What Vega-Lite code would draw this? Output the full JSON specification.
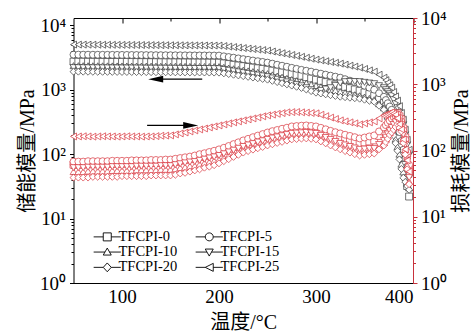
{
  "$schema": "https://vega.github.io/schema/vega-lite/v6.json",
  "width": 339.5,
  "height": 265,
  "autosize": "none",
  "padding": {"left": 73.5, "top": 18, "right": 62, "bottom": 52},
  "background": "white",
  "config": {
    "view": {"stroke": "black", "strokeWidth": 1},
    "axis": {
      "grid": false,
      "labelFont": "Liberation Serif",
      "labelFontSize": 19,
      "labelColor": "black",
      "titleFont": "Liberation Serif, Noto Sans CJK SC",
      "titleFontSize": 20,
      "titleFontWeight": "normal",
      "titleColor": "black",
      "domainColor": "black",
      "tickColor": "black",
      "domainWidth": 1,
      "tickWidth": 1
    }
  },
  "datasets": {
    "dma": [
      {"s":"TFCPI-0","T":50,"E1":2734,"E2":61},{"s":"TFCPI-0","T":55,"E1":2731,"E2":61},{"s":"TFCPI-0","T":60,"E1":2728,"E2":61},{"s":"TFCPI-0","T":65,"E1":2724,"E2":62},{"s":"TFCPI-0","T":70,"E1":2721,"E2":62},{"s":"TFCPI-0","T":75,"E1":2718,"E2":62},{"s":"TFCPI-0","T":80,"E1":2715,"E2":62},{"s":"TFCPI-0","T":85,"E1":2712,"E2":63},{"s":"TFCPI-0","T":90,"E1":2708,"E2":63},{"s":"TFCPI-0","T":95,"E1":2705,"E2":63},
      {"s":"TFCPI-0","T":100,"E1":2702,"E2":63},{"s":"TFCPI-0","T":105,"E1":2699,"E2":64},{"s":"TFCPI-0","T":110,"E1":2696,"E2":64},{"s":"TFCPI-0","T":115,"E1":2692,"E2":64},{"s":"TFCPI-0","T":120,"E1":2689,"E2":64},{"s":"TFCPI-0","T":125,"E1":2686,"E2":65},{"s":"TFCPI-0","T":130,"E1":2683,"E2":65},{"s":"TFCPI-0","T":135,"E1":2680,"E2":65},{"s":"TFCPI-0","T":140,"E1":2676,"E2":65},{"s":"TFCPI-0","T":145,"E1":2673,"E2":66},
      {"s":"TFCPI-0","T":150,"E1":2670,"E2":66},{"s":"TFCPI-0","T":155,"E1":2667,"E2":67},{"s":"TFCPI-0","T":160,"E1":2664,"E2":70},{"s":"TFCPI-0","T":165,"E1":2660,"E2":72},{"s":"TFCPI-0","T":170,"E1":2657,"E2":74},{"s":"TFCPI-0","T":175,"E1":2654,"E2":76},{"s":"TFCPI-0","T":180,"E1":2651,"E2":80},{"s":"TFCPI-0","T":185,"E1":2648,"E2":82},{"s":"TFCPI-0","T":190,"E1":2644,"E2":86},{"s":"TFCPI-0","T":195,"E1":2641,"E2":89},
      {"s":"TFCPI-0","T":200,"E1":2638,"E2":93},{"s":"TFCPI-0","T":205,"E1":2572,"E2":99},{"s":"TFCPI-0","T":210,"E1":2508,"E2":106},{"s":"TFCPI-0","T":215,"E1":2446,"E2":113},{"s":"TFCPI-0","T":220,"E1":2386,"E2":120},{"s":"TFCPI-0","T":225,"E1":2327,"E2":128},{"s":"TFCPI-0","T":230,"E1":2269,"E2":135},{"s":"TFCPI-0","T":235,"E1":2213,"E2":144},{"s":"TFCPI-0","T":240,"E1":2158,"E2":152},{"s":"TFCPI-0","T":245,"E1":2105,"E2":160},
      {"s":"TFCPI-0","T":250,"E1":2052,"E2":169},{"s":"TFCPI-0","T":255,"E1":1986,"E2":177},{"s":"TFCPI-0","T":260,"E1":1924,"E2":185},{"s":"TFCPI-0","T":265,"E1":1864,"E2":192},{"s":"TFCPI-0","T":270,"E1":1810,"E2":201},{"s":"TFCPI-0","T":275,"E1":1752,"E2":208},{"s":"TFCPI-0","T":280,"E1":1697,"E2":210},{"s":"TFCPI-0","T":285,"E1":1644,"E2":213},{"s":"TFCPI-0","T":290,"E1":1568,"E2":215},{"s":"TFCPI-0","T":295,"E1":1497,"E2":212},
      {"s":"TFCPI-0","T":300,"E1":1434,"E2":208},{"s":"TFCPI-0","T":305,"E1":1373,"E2":196},{"s":"TFCPI-0","T":310,"E1":1316,"E2":185},{"s":"TFCPI-0","T":315,"E1":1261,"E2":177},{"s":"TFCPI-0","T":320,"E1":1208,"E2":167},{"s":"TFCPI-0","T":325,"E1":1156,"E2":157},{"s":"TFCPI-0","T":330,"E1":1106,"E2":150},{"s":"TFCPI-0","T":335,"E1":1057,"E2":142},{"s":"TFCPI-0","T":340,"E1":1011,"E2":135},{"s":"TFCPI-0","T":345,"E1":967,"E2":128},
      {"s":"TFCPI-0","T":350,"E1":910,"E2":132},{"s":"TFCPI-0","T":355,"E1":858,"E2":137},{"s":"TFCPI-0","T":360,"E1":808,"E2":142},{"s":"TFCPI-0","T":365,"E1":713,"E2":166},{"s":"TFCPI-0","T":370,"E1":629,"E2":194},{"s":"TFCPI-0","T":372,"E1":550,"E2":213},{"s":"TFCPI-0","T":374,"E1":480,"E2":235},{"s":"TFCPI-0","T":376,"E1":420,"E2":260},{"s":"TFCPI-0","T":378,"E1":367,"E2":285},{"s":"TFCPI-0","T":380,"E1":293,"E2":308},
      {"s":"TFCPI-0","T":382,"E1":234,"E2":336},{"s":"TFCPI-0","T":384,"E1":187,"E2":364},{"s":"TFCPI-0","T":386,"E1":140,"E2":328},{"s":"TFCPI-0","T":388,"E1":98,"E2":295},{"s":"TFCPI-0","T":390,"E1":68,"E2":215},{"s":"TFCPI-0","T":392,"E1":48,"E2":157},{"s":"TFCPI-0","T":394,"E1":32,"E2":90},{"s":"TFCPI-0","T":396,"E1":22,"E2":52},

      {"s":"TFCPI-5","T":50,"E1":3514,"E2":68},{"s":"TFCPI-5","T":55,"E1":3510,"E2":68},{"s":"TFCPI-5","T":60,"E1":3506,"E2":68},{"s":"TFCPI-5","T":65,"E1":3502,"E2":69},{"s":"TFCPI-5","T":70,"E1":3498,"E2":69},{"s":"TFCPI-5","T":75,"E1":3494,"E2":69},{"s":"TFCPI-5","T":80,"E1":3490,"E2":69},{"s":"TFCPI-5","T":85,"E1":3486,"E2":69},{"s":"TFCPI-5","T":90,"E1":3482,"E2":70},{"s":"TFCPI-5","T":95,"E1":3478,"E2":70},
      {"s":"TFCPI-5","T":100,"E1":3474,"E2":70},{"s":"TFCPI-5","T":105,"E1":3470,"E2":70},{"s":"TFCPI-5","T":110,"E1":3466,"E2":71},{"s":"TFCPI-5","T":115,"E1":3462,"E2":71},{"s":"TFCPI-5","T":120,"E1":3458,"E2":71},{"s":"TFCPI-5","T":125,"E1":3454,"E2":71},{"s":"TFCPI-5","T":130,"E1":3450,"E2":72},{"s":"TFCPI-5","T":135,"E1":3446,"E2":72},{"s":"TFCPI-5","T":140,"E1":3442,"E2":72},{"s":"TFCPI-5","T":145,"E1":3438,"E2":73},
      {"s":"TFCPI-5","T":150,"E1":3434,"E2":73},{"s":"TFCPI-5","T":155,"E1":3430,"E2":75},{"s":"TFCPI-5","T":160,"E1":3426,"E2":77},{"s":"TFCPI-5","T":165,"E1":3422,"E2":79},{"s":"TFCPI-5","T":170,"E1":3418,"E2":81},{"s":"TFCPI-5","T":175,"E1":3414,"E2":84},{"s":"TFCPI-5","T":180,"E1":3410,"E2":88},{"s":"TFCPI-5","T":185,"E1":3406,"E2":91},{"s":"TFCPI-5","T":190,"E1":3402,"E2":95},{"s":"TFCPI-5","T":195,"E1":3398,"E2":99},
      {"s":"TFCPI-5","T":200,"E1":3394,"E2":104},{"s":"TFCPI-5","T":205,"E1":3305,"E2":110},{"s":"TFCPI-5","T":210,"E1":3223,"E2":117},{"s":"TFCPI-5","T":215,"E1":3145,"E2":125},{"s":"TFCPI-5","T":220,"E1":3067,"E2":133},{"s":"TFCPI-5","T":225,"E1":2990,"E2":142},{"s":"TFCPI-5","T":230,"E1":2917,"E2":150},{"s":"TFCPI-5","T":235,"E1":2844,"E2":159},{"s":"TFCPI-5","T":240,"E1":2775,"E2":168},{"s":"TFCPI-5","T":245,"E1":2705,"E2":177},
      {"s":"TFCPI-5","T":250,"E1":2638,"E2":187},{"s":"TFCPI-5","T":255,"E1":2545,"E2":196},{"s":"TFCPI-5","T":260,"E1":2446,"E2":204},{"s":"TFCPI-5","T":265,"E1":2361,"E2":213},{"s":"TFCPI-5","T":270,"E1":2277,"E2":221},{"s":"TFCPI-5","T":275,"E1":2190,"E2":231},{"s":"TFCPI-5","T":280,"E1":2112,"E2":234},{"s":"TFCPI-5","T":285,"E1":2038,"E2":237},{"s":"TFCPI-5","T":290,"E1":1973,"E2":239},{"s":"TFCPI-5","T":295,"E1":1910,"E2":235},
      {"s":"TFCPI-5","T":300,"E1":1843,"E2":231},{"s":"TFCPI-5","T":305,"E1":1778,"E2":220},{"s":"TFCPI-5","T":310,"E1":1715,"E2":209},{"s":"TFCPI-5","T":315,"E1":1655,"E2":198},{"s":"TFCPI-5","T":320,"E1":1597,"E2":189},{"s":"TFCPI-5","T":325,"E1":1540,"E2":181},{"s":"TFCPI-5","T":330,"E1":1460,"E2":173},{"s":"TFCPI-5","T":335,"E1":1383,"E2":166},{"s":"TFCPI-5","T":340,"E1":1311,"E2":159},{"s":"TFCPI-5","T":345,"E1":1242,"E2":152},
      {"s":"TFCPI-5","T":350,"E1":1156,"E2":157},{"s":"TFCPI-5","T":355,"E1":1076,"E2":163},{"s":"TFCPI-5","T":360,"E1":1002,"E2":169},{"s":"TFCPI-5","T":365,"E1":884,"E2":194},{"s":"TFCPI-5","T":370,"E1":779,"E2":223},{"s":"TFCPI-5","T":372,"E1":693,"E2":241},{"s":"TFCPI-5","T":374,"E1":618,"E2":262},{"s":"TFCPI-5","T":376,"E1":549,"E2":282},{"s":"TFCPI-5","T":378,"E1":489,"E2":305},{"s":"TFCPI-5","T":380,"E1":407,"E2":319},
      {"s":"TFCPI-5","T":382,"E1":338,"E2":336},{"s":"TFCPI-5","T":384,"E1":282,"E2":351},{"s":"TFCPI-5","T":386,"E1":220,"E2":312},{"s":"TFCPI-5","T":388,"E1":160,"E2":275},{"s":"TFCPI-5","T":390,"E1":117,"E2":201},{"s":"TFCPI-5","T":392,"E1":87,"E2":147},{"s":"TFCPI-5","T":394,"E1":64,"E2":95},{"s":"TFCPI-5","T":396,"E1":48,"E2":61},

      {"s":"TFCPI-10","T":50,"E1":2369,"E2":48},{"s":"TFCPI-10","T":55,"E1":2366,"E2":48},{"s":"TFCPI-10","T":60,"E1":2363,"E2":48},{"s":"TFCPI-10","T":65,"E1":2361,"E2":49},{"s":"TFCPI-10","T":70,"E1":2358,"E2":49},{"s":"TFCPI-10","T":75,"E1":2355,"E2":49},{"s":"TFCPI-10","T":80,"E1":2352,"E2":49},{"s":"TFCPI-10","T":85,"E1":2350,"E2":49},{"s":"TFCPI-10","T":90,"E1":2347,"E2":50},{"s":"TFCPI-10","T":95,"E1":2344,"E2":50},
      {"s":"TFCPI-10","T":100,"E1":2341,"E2":50},{"s":"TFCPI-10","T":105,"E1":2339,"E2":50},{"s":"TFCPI-10","T":110,"E1":2336,"E2":50},{"s":"TFCPI-10","T":115,"E1":2333,"E2":51},{"s":"TFCPI-10","T":120,"E1":2330,"E2":51},{"s":"TFCPI-10","T":125,"E1":2328,"E2":51},{"s":"TFCPI-10","T":130,"E1":2325,"E2":51},{"s":"TFCPI-10","T":135,"E1":2322,"E2":51},{"s":"TFCPI-10","T":140,"E1":2319,"E2":52},{"s":"TFCPI-10","T":145,"E1":2316,"E2":52},
      {"s":"TFCPI-10","T":150,"E1":2314,"E2":52},{"s":"TFCPI-10","T":155,"E1":2311,"E2":53},{"s":"TFCPI-10","T":160,"E1":2308,"E2":55},{"s":"TFCPI-10","T":165,"E1":2305,"E2":56},{"s":"TFCPI-10","T":170,"E1":2303,"E2":58},{"s":"TFCPI-10","T":175,"E1":2300,"E2":59},{"s":"TFCPI-10","T":180,"E1":2297,"E2":62},{"s":"TFCPI-10","T":185,"E1":2294,"E2":65},{"s":"TFCPI-10","T":190,"E1":2292,"E2":67},{"s":"TFCPI-10","T":195,"E1":2289,"E2":70},
      {"s":"TFCPI-10","T":200,"E1":2286,"E2":73},{"s":"TFCPI-10","T":205,"E1":2230,"E2":78},{"s":"TFCPI-10","T":210,"E1":2173,"E2":84},{"s":"TFCPI-10","T":215,"E1":2119,"E2":90},{"s":"TFCPI-10","T":220,"E1":2066,"E2":97},{"s":"TFCPI-10","T":225,"E1":2015,"E2":104},{"s":"TFCPI-10","T":230,"E1":1965,"E2":109},{"s":"TFCPI-10","T":235,"E1":1916,"E2":114},{"s":"TFCPI-10","T":240,"E1":1868,"E2":120},{"s":"TFCPI-10","T":245,"E1":1823,"E2":126},
      {"s":"TFCPI-10","T":250,"E1":1778,"E2":132},{"s":"TFCPI-10","T":255,"E1":1703,"E2":138},{"s":"TFCPI-10","T":260,"E1":1632,"E2":144},{"s":"TFCPI-10","T":265,"E1":1568,"E2":150},{"s":"TFCPI-10","T":270,"E1":1502,"E2":156},{"s":"TFCPI-10","T":275,"E1":1439,"E2":163},{"s":"TFCPI-10","T":280,"E1":1379,"E2":165},{"s":"TFCPI-10","T":285,"E1":1324,"E2":167},{"s":"TFCPI-10","T":290,"E1":1265,"E2":169},{"s":"TFCPI-10","T":295,"E1":1208,"E2":166},
      {"s":"TFCPI-10","T":300,"E1":1156,"E2":163},{"s":"TFCPI-10","T":305,"E1":1108,"E2":154},{"s":"TFCPI-10","T":310,"E1":1061,"E2":144},{"s":"TFCPI-10","T":315,"E1":1016,"E2":135},{"s":"TFCPI-10","T":320,"E1":974,"E2":127},{"s":"TFCPI-10","T":325,"E1":933,"E2":119},{"s":"TFCPI-10","T":330,"E1":900,"E2":113},{"s":"TFCPI-10","T":335,"E1":868,"E2":107},{"s":"TFCPI-10","T":340,"E1":837,"E2":102},{"s":"TFCPI-10","T":345,"E1":808,"E2":97},
      {"s":"TFCPI-10","T":350,"E1":771,"E2":99},{"s":"TFCPI-10","T":355,"E1":734,"E2":101},{"s":"TFCPI-10","T":360,"E1":700,"E2":104},{"s":"TFCPI-10","T":365,"E1":607,"E2":117},{"s":"TFCPI-10","T":370,"E1":526,"E2":132},{"s":"TFCPI-10","T":372,"E1":454,"E2":148},{"s":"TFCPI-10","T":374,"E1":390,"E2":166},{"s":"TFCPI-10","T":376,"E1":333,"E2":185},{"s":"TFCPI-10","T":378,"E1":286,"E2":208},{"s":"TFCPI-10","T":380,"E1":221,"E2":229},
      {"s":"TFCPI-10","T":382,"E1":171,"E2":251},{"s":"TFCPI-10","T":384,"E1":131,"E2":275},{"s":"TFCPI-10","T":386,"E1":100,"E2":248},{"s":"TFCPI-10","T":388,"E1":70,"E2":223},{"s":"TFCPI-10","T":390,"E1":53,"E2":152},{"s":"TFCPI-10","T":392,"E1":44,"E2":104},{"s":"TFCPI-10","T":394,"E1":36,"E2":59},{"s":"TFCPI-10","T":396,"E1":30,"E2":34},

      {"s":"TFCPI-15","T":50,"E1":2205,"E2":55},{"s":"TFCPI-15","T":55,"E1":2202,"E2":55},{"s":"TFCPI-15","T":60,"E1":2200,"E2":55},{"s":"TFCPI-15","T":65,"E1":2197,"E2":56},{"s":"TFCPI-15","T":70,"E1":2195,"E2":56},{"s":"TFCPI-15","T":75,"E1":2192,"E2":56},{"s":"TFCPI-15","T":80,"E1":2189,"E2":56},{"s":"TFCPI-15","T":85,"E1":2187,"E2":56},{"s":"TFCPI-15","T":90,"E1":2184,"E2":57},{"s":"TFCPI-15","T":95,"E1":2182,"E2":57},
      {"s":"TFCPI-15","T":100,"E1":2179,"E2":57},{"s":"TFCPI-15","T":105,"E1":2176,"E2":57},{"s":"TFCPI-15","T":110,"E1":2174,"E2":57},{"s":"TFCPI-15","T":115,"E1":2171,"E2":58},{"s":"TFCPI-15","T":120,"E1":2169,"E2":58},{"s":"TFCPI-15","T":125,"E1":2166,"E2":58},{"s":"TFCPI-15","T":130,"E1":2163,"E2":58},{"s":"TFCPI-15","T":135,"E1":2161,"E2":58},{"s":"TFCPI-15","T":140,"E1":2158,"E2":59},{"s":"TFCPI-15","T":145,"E1":2156,"E2":59},
      {"s":"TFCPI-15","T":150,"E1":2153,"E2":59},{"s":"TFCPI-15","T":155,"E1":2150,"E2":61},{"s":"TFCPI-15","T":160,"E1":2148,"E2":63},{"s":"TFCPI-15","T":165,"E1":2145,"E2":65},{"s":"TFCPI-15","T":170,"E1":2143,"E2":67},{"s":"TFCPI-15","T":175,"E1":2140,"E2":68},{"s":"TFCPI-15","T":180,"E1":2137,"E2":71},{"s":"TFCPI-15","T":185,"E1":2135,"E2":74},{"s":"TFCPI-15","T":190,"E1":2132,"E2":77},{"s":"TFCPI-15","T":195,"E1":2130,"E2":80},
      {"s":"TFCPI-15","T":200,"E1":2127,"E2":84},{"s":"TFCPI-15","T":205,"E1":2066,"E2":89},{"s":"TFCPI-15","T":210,"E1":2008,"E2":95},{"s":"TFCPI-15","T":215,"E1":1951,"E2":101},{"s":"TFCPI-15","T":220,"E1":1896,"E2":108},{"s":"TFCPI-15","T":225,"E1":1843,"E2":115},{"s":"TFCPI-15","T":230,"E1":1791,"E2":121},{"s":"TFCPI-15","T":235,"E1":1740,"E2":127},{"s":"TFCPI-15","T":240,"E1":1691,"E2":134},{"s":"TFCPI-15","T":245,"E1":1644,"E2":140},
      {"s":"TFCPI-15","T":250,"E1":1597,"E2":147},{"s":"TFCPI-15","T":255,"E1":1523,"E2":154},{"s":"TFCPI-15","T":260,"E1":1454,"E2":160},{"s":"TFCPI-15","T":265,"E1":1390,"E2":167},{"s":"TFCPI-15","T":270,"E1":1326,"E2":174},{"s":"TFCPI-15","T":275,"E1":1265,"E2":181},{"s":"TFCPI-15","T":280,"E1":1208,"E2":183},{"s":"TFCPI-15","T":285,"E1":1152,"E2":185},{"s":"TFCPI-15","T":290,"E1":1076,"E2":187},{"s":"TFCPI-15","T":295,"E1":1002,"E2":184},
      {"s":"TFCPI-15","T":300,"E1":933,"E2":181},{"s":"TFCPI-15","T":305,"E1":977,"E2":169},{"s":"TFCPI-15","T":310,"E1":1026,"E2":157},{"s":"TFCPI-15","T":315,"E1":1076,"E2":147},{"s":"TFCPI-15","T":320,"E1":1169,"E2":137},{"s":"TFCPI-15","T":325,"E1":1270,"E2":128},{"s":"TFCPI-15","T":330,"E1":1335,"E2":121},{"s":"TFCPI-15","T":335,"E1":1347,"E2":115},{"s":"TFCPI-15","T":340,"E1":1340,"E2":109},{"s":"TFCPI-15","T":345,"E1":1335,"E2":104},
      {"s":"TFCPI-15","T":350,"E1":1303,"E2":105},{"s":"TFCPI-15","T":355,"E1":1272,"E2":107},{"s":"TFCPI-15","T":360,"E1":1242,"E2":107},{"s":"TFCPI-15","T":365,"E1":1156,"E2":123},{"s":"TFCPI-15","T":370,"E1":1076,"E2":142},{"s":"TFCPI-15","T":372,"E1":1002,"E2":159},{"s":"TFCPI-15","T":374,"E1":933,"E2":178},{"s":"TFCPI-15","T":376,"E1":868,"E2":199},{"s":"TFCPI-15","T":378,"E1":808,"E2":223},{"s":"TFCPI-15","T":380,"E1":700,"E2":246},
      {"s":"TFCPI-15","T":382,"E1":607,"E2":270},{"s":"TFCPI-15","T":384,"E1":526,"E2":295},{"s":"TFCPI-15","T":386,"E1":440,"E2":268},{"s":"TFCPI-15","T":388,"E1":354,"E2":248},{"s":"TFCPI-15","T":390,"E1":286,"E2":175},{"s":"TFCPI-15","T":392,"E1":200,"E2":123},{"s":"TFCPI-15","T":394,"E1":140,"E2":69},{"s":"TFCPI-15","T":396,"E1":98,"E2":39},

      {"s":"TFCPI-20","T":50,"E1":1910,"E2":39},{"s":"TFCPI-20","T":55,"E1":1908,"E2":39},{"s":"TFCPI-20","T":60,"E1":1906,"E2":39},{"s":"TFCPI-20","T":65,"E1":1903,"E2":39},{"s":"TFCPI-20","T":70,"E1":1901,"E2":40},{"s":"TFCPI-20","T":75,"E1":1899,"E2":40},{"s":"TFCPI-20","T":80,"E1":1897,"E2":40},{"s":"TFCPI-20","T":85,"E1":1894,"E2":40},{"s":"TFCPI-20","T":90,"E1":1892,"E2":40},{"s":"TFCPI-20","T":95,"E1":1890,"E2":40},
      {"s":"TFCPI-20","T":100,"E1":1888,"E2":41},{"s":"TFCPI-20","T":105,"E1":1886,"E2":41},{"s":"TFCPI-20","T":110,"E1":1883,"E2":41},{"s":"TFCPI-20","T":115,"E1":1881,"E2":41},{"s":"TFCPI-20","T":120,"E1":1879,"E2":41},{"s":"TFCPI-20","T":125,"E1":1877,"E2":41},{"s":"TFCPI-20","T":130,"E1":1874,"E2":42},{"s":"TFCPI-20","T":135,"E1":1872,"E2":42},{"s":"TFCPI-20","T":140,"E1":1870,"E2":42},{"s":"TFCPI-20","T":145,"E1":1868,"E2":42},
      {"s":"TFCPI-20","T":150,"E1":1866,"E2":42},{"s":"TFCPI-20","T":155,"E1":1863,"E2":43},{"s":"TFCPI-20","T":160,"E1":1861,"E2":45},{"s":"TFCPI-20","T":165,"E1":1859,"E2":46},{"s":"TFCPI-20","T":170,"E1":1857,"E2":48},{"s":"TFCPI-20","T":175,"E1":1854,"E2":50},{"s":"TFCPI-20","T":180,"E1":1852,"E2":52},{"s":"TFCPI-20","T":185,"E1":1850,"E2":55},{"s":"TFCPI-20","T":190,"E1":1848,"E2":57},{"s":"TFCPI-20","T":195,"E1":1846,"E2":60},
      {"s":"TFCPI-20","T":200,"E1":1843,"E2":64},{"s":"TFCPI-20","T":205,"E1":1796,"E2":69},{"s":"TFCPI-20","T":210,"E1":1752,"E2":74},{"s":"TFCPI-20","T":215,"E1":1709,"E2":80},{"s":"TFCPI-20","T":220,"E1":1667,"E2":86},{"s":"TFCPI-20","T":225,"E1":1626,"E2":93},{"s":"TFCPI-20","T":230,"E1":1585,"E2":98},{"s":"TFCPI-20","T":235,"E1":1546,"E2":103},{"s":"TFCPI-20","T":240,"E1":1508,"E2":108},{"s":"TFCPI-20","T":245,"E1":1471,"E2":113},
      {"s":"TFCPI-20","T":250,"E1":1434,"E2":119},{"s":"TFCPI-20","T":255,"E1":1373,"E2":124},{"s":"TFCPI-20","T":260,"E1":1316,"E2":130},{"s":"TFCPI-20","T":265,"E1":1265,"E2":135},{"s":"TFCPI-20","T":270,"E1":1212,"E2":141},{"s":"TFCPI-20","T":275,"E1":1160,"E2":147},{"s":"TFCPI-20","T":280,"E1":1111,"E2":149},{"s":"TFCPI-20","T":285,"E1":1065,"E2":151},{"s":"TFCPI-20","T":290,"E1":1008,"E2":152},{"s":"TFCPI-20","T":295,"E1":953,"E2":150},
      {"s":"TFCPI-20","T":300,"E1":900,"E2":147},{"s":"TFCPI-20","T":305,"E1":874,"E2":137},{"s":"TFCPI-20","T":310,"E1":849,"E2":128},{"s":"TFCPI-20","T":315,"E1":824,"E2":119},{"s":"TFCPI-20","T":320,"E1":802,"E2":111},{"s":"TFCPI-20","T":325,"E1":779,"E2":104},{"s":"TFCPI-20","T":330,"E1":766,"E2":98},{"s":"TFCPI-20","T":335,"E1":752,"E2":93},{"s":"TFCPI-20","T":340,"E1":739,"E2":88},{"s":"TFCPI-20","T":345,"E1":726,"E2":84},
      {"s":"TFCPI-20","T":350,"E1":700,"E2":86},{"s":"TFCPI-20","T":355,"E1":675,"E2":88},{"s":"TFCPI-20","T":360,"E1":652,"E2":90},{"s":"TFCPI-20","T":365,"E1":565,"E2":104},{"s":"TFCPI-20","T":370,"E1":489,"E2":119},{"s":"TFCPI-20","T":372,"E1":417,"E2":134},{"s":"TFCPI-20","T":374,"E1":355,"E2":150},{"s":"TFCPI-20","T":376,"E1":302,"E2":172},{"s":"TFCPI-20","T":378,"E1":257,"E2":187},{"s":"TFCPI-20","T":380,"E1":195,"E2":206},
      {"s":"TFCPI-20","T":382,"E1":148,"E2":226},{"s":"TFCPI-20","T":384,"E1":113,"E2":248},{"s":"TFCPI-20","T":386,"E1":83,"E2":219},{"s":"TFCPI-20","T":388,"E1":59,"E2":194},{"s":"TFCPI-20","T":390,"E1":43,"E2":130},{"s":"TFCPI-20","T":392,"E1":37,"E2":87},{"s":"TFCPI-20","T":394,"E1":32,"E2":52},{"s":"TFCPI-20","T":396,"E1":28,"E2":31},

      {"s":"TFCPI-25","T":50,"E1":5030,"E2":163},{"s":"TFCPI-25","T":55,"E1":5024,"E2":163},{"s":"TFCPI-25","T":60,"E1":5018,"E2":164},{"s":"TFCPI-25","T":65,"E1":5012,"E2":163},{"s":"TFCPI-25","T":70,"E1":5006,"E2":162},{"s":"TFCPI-25","T":75,"E1":5000,"E2":163},{"s":"TFCPI-25","T":80,"E1":4994,"E2":164},{"s":"TFCPI-25","T":85,"E1":4988,"E2":163},{"s":"TFCPI-25","T":90,"E1":4982,"E2":163},{"s":"TFCPI-25","T":95,"E1":4976,"E2":162},
      {"s":"TFCPI-25","T":100,"E1":4970,"E2":163},{"s":"TFCPI-25","T":105,"E1":4964,"E2":164},{"s":"TFCPI-25","T":110,"E1":4958,"E2":163},{"s":"TFCPI-25","T":115,"E1":4952,"E2":163},{"s":"TFCPI-25","T":120,"E1":4946,"E2":162},{"s":"TFCPI-25","T":125,"E1":4940,"E2":163},{"s":"TFCPI-25","T":130,"E1":4934,"E2":163},{"s":"TFCPI-25","T":135,"E1":4928,"E2":165},{"s":"TFCPI-25","T":140,"E1":4922,"E2":167},{"s":"TFCPI-25","T":145,"E1":4916,"E2":168},
      {"s":"TFCPI-25","T":150,"E1":4910,"E2":169},{"s":"TFCPI-25","T":155,"E1":4904,"E2":175},{"s":"TFCPI-25","T":160,"E1":4898,"E2":181},{"s":"TFCPI-25","T":165,"E1":4892,"E2":187},{"s":"TFCPI-25","T":170,"E1":4886,"E2":194},{"s":"TFCPI-25","T":175,"E1":4880,"E2":201},{"s":"TFCPI-25","T":180,"E1":4874,"E2":208},{"s":"TFCPI-25","T":185,"E1":4868,"E2":215},{"s":"TFCPI-25","T":190,"E1":4862,"E2":223},{"s":"TFCPI-25","T":195,"E1":4856,"E2":231},
      {"s":"TFCPI-25","T":200,"E1":4850,"E2":239},{"s":"TFCPI-25","T":205,"E1":4770,"E2":248},{"s":"TFCPI-25","T":210,"E1":4681,"E2":257},{"s":"TFCPI-25","T":215,"E1":4600,"E2":266},{"s":"TFCPI-25","T":220,"E1":4516,"E2":275},{"s":"TFCPI-25","T":225,"E1":4436,"E2":285},{"s":"TFCPI-25","T":230,"E1":4357,"E2":295},{"s":"TFCPI-25","T":235,"E1":4280,"E2":305},{"s":"TFCPI-25","T":240,"E1":4204,"E2":316},{"s":"TFCPI-25","T":245,"E1":4130,"E2":328},
      {"s":"TFCPI-25","T":250,"E1":4056,"E2":339},{"s":"TFCPI-25","T":255,"E1":3925,"E2":348},{"s":"TFCPI-25","T":260,"E1":3800,"E2":358},{"s":"TFCPI-25","T":265,"E1":3690,"E2":367},{"s":"TFCPI-25","T":270,"E1":3575,"E2":377},{"s":"TFCPI-25","T":275,"E1":3465,"E2":380},{"s":"TFCPI-25","T":280,"E1":3355,"E2":381},{"s":"TFCPI-25","T":285,"E1":3250,"E2":377},{"s":"TFCPI-25","T":290,"E1":3140,"E2":373},{"s":"TFCPI-25","T":295,"E1":3035,"E2":368},
      {"s":"TFCPI-25","T":300,"E1":2938,"E2":364},{"s":"TFCPI-25","T":305,"E1":2855,"E2":347},{"s":"TFCPI-25","T":310,"E1":2775,"E2":330},{"s":"TFCPI-25","T":315,"E1":2695,"E2":314},{"s":"TFCPI-25","T":320,"E1":2620,"E2":299},{"s":"TFCPI-25","T":325,"E1":2545,"E2":285},{"s":"TFCPI-25","T":330,"E1":2455,"E2":275},{"s":"TFCPI-25","T":335,"E1":2369,"E2":266},{"s":"TFCPI-25","T":340,"E1":2286,"E2":257},{"s":"TFCPI-25","T":345,"E1":2205,"E2":248},
      {"s":"TFCPI-25","T":350,"E1":2105,"E2":257},{"s":"TFCPI-25","T":355,"E1":2000,"E2":266},{"s":"TFCPI-25","T":360,"E1":1910,"E2":275},{"s":"TFCPI-25","T":365,"E1":1715,"E2":305},{"s":"TFCPI-25","T":370,"E1":1540,"E2":339},{"s":"TFCPI-25","T":372,"E1":1410,"E2":348},{"s":"TFCPI-25","T":374,"E1":1288,"E2":358},{"s":"TFCPI-25","T":376,"E1":1178,"E2":367},{"s":"TFCPI-25","T":378,"E1":1076,"E2":377},{"s":"TFCPI-25","T":380,"E1":923,"E2":361},
      {"s":"TFCPI-25","T":382,"E1":790,"E2":347},{"s":"TFCPI-25","T":384,"E1":678,"E2":307},{"s":"TFCPI-25","T":386,"E1":557,"E2":250},{"s":"TFCPI-25","T":388,"E1":436,"E2":208},{"s":"TFCPI-25","T":390,"E1":342,"E2":147},{"s":"TFCPI-25","T":392,"E1":239,"E2":104},{"s":"TFCPI-25","T":394,"E1":167,"E2":71},{"s":"TFCPI-25","T":396,"E1":117,"E2":48}
    ],
    "arrows": [
      {"dir": "left", "T1": 134.7, "T2": 182.7, "Th": 134.7, "v": 1191},
      {"dir": "right", "T1": 125.9, "T2": 170.8, "Th": 170.8, "v": 239}
    ]
  },
  "layer": [
    {
      "data": {"name": "dma"},
      "mark": {"type": "point", "filled": true, "fill": "white", "stroke": "#363636", "strokeWidth": 0.7, "size": 48, "opacity": 1},
      "encoding": {
        "x": {"field": "T", "type": "quantitative", "scale": {"domain": [50, 400], "nice": false, "zero": false},
              "axis": {"values": [100, 200, 300, 400], "ticks": false, "domain": false, "labelPadding": 4, "title": "温度/°C", "titlePadding": 6}},
        "y": {"field": "E1", "type": "quantitative", "scale": {"type": "log", "domain": [1, 13000], "nice": false},
              "axis": {"orient": "left", "values": [1, 10, 100, 1000, 10000], "labelExpr": "'10' + ['⁰','¹','²','³','⁴'][round(log(datum.value)/LN10)]", "tickSize": 4, "labelPadding": 4, "domain": false, "title": "储能模量/MPa", "titlePadding": 2}},
        "shape": {"field": "s", "type": "nominal",
                  "scale": {"domain": ["TFCPI-0", "TFCPI-5", "TFCPI-10", "TFCPI-15", "TFCPI-20", "TFCPI-25"],
                            "range": ["square", "circle", "triangle-up", "triangle-down", "diamond", "triangle-left"]},
                  "legend": null}
      }
    },
    {
      "data": {"name": "dma"},
      "transform": [{"filter": "datum.T == 50"}],
      "mark": {"type": "point", "opacity": 0},
      "encoding": {
        "x": {"field": "T", "type": "quantitative", "scale": {"domain": [50, 400], "nice": false, "zero": false},
              "axis": {"values": [100, 200, 300, 400], "labels": false, "domain": false, "tickSize": -5, "title": null}},
        "y": {"field": "E1", "type": "quantitative", "scale": {"type": "log", "domain": [1, 13000], "nice": false},
              "axis": {"orient": "left", "values": [2,3,4,5,6,7,8,9,20,30,40,50,60,70,80,90,200,300,400,500,600,700,800,900,2000,3000,4000,5000,6000,7000,8000,9000], "labels": false, "domain": false, "tickSize": 2.5, "title": null}}
      }
    },
    {
      "data": {"name": "dma"},
      "transform": [{"filter": "datum.T == 50"}],
      "mark": {"type": "point", "opacity": 0},
      "encoding": {
        "x": {"field": "T", "type": "quantitative", "scale": {"domain": [50, 400], "nice": false, "zero": false},
              "axis": {"values": [150, 250, 350], "labels": false, "domain": false, "tickSize": -3, "title": null}},
        "y": {"field": "E1", "type": "quantitative", "scale": {"type": "log", "domain": [1, 13000], "nice": false}, "axis": null}
      }
    },
    {
      "data": {"name": "dma"},
      "mark": {"type": "point", "filled": true, "fill": "white", "stroke": "#d8343c", "strokeWidth": 0.7, "size": 48, "opacity": 1},
      "encoding": {
        "x": {"field": "T", "type": "quantitative", "scale": {"domain": [50, 400], "nice": false, "zero": false}, "axis": null},
        "y": {"field": "E2", "type": "quantitative", "scale": {"type": "log", "domain": [1, 10000], "nice": false},
              "axis": {"orient": "right", "values": [1, 10, 100, 1000, 10000], "labelExpr": "'10' + ['⁰','¹','²','³','⁴'][round(log(datum.value)/LN10)]", "tickSize": 4, "labelPadding": 3.5, "domain": true, "domainColor": "#c8323c", "tickColor": "#c8323c", "title": "损耗模量/MPa", "titleAngle": 270, "titlePadding": 25}},
        "shape": {"field": "s", "type": "nominal",
                  "scale": {"domain": ["TFCPI-0", "TFCPI-5", "TFCPI-10", "TFCPI-15", "TFCPI-20", "TFCPI-25"],
                            "range": ["square", "circle", "triangle-up", "triangle-down", "diamond", "triangle-left"]},
                  "legend": null}
      }
    },
    {
      "data": {"name": "dma"},
      "transform": [{"filter": "datum.T == 50"}],
      "mark": {"type": "point", "opacity": 0},
      "encoding": {
        "x": {"field": "T", "type": "quantitative", "scale": {"domain": [50, 400], "nice": false, "zero": false}, "axis": null},
        "y": {"field": "E2", "type": "quantitative", "scale": {"type": "log", "domain": [1, 10000], "nice": false},
              "axis": {"orient": "right", "values": [2,3,4,5,6,7,8,9,20,30,40,50,60,70,80,90,200,300,400,500,600,700,800,900,2000,3000,4000,5000,6000,7000,8000,9000], "labels": false, "domain": false, "tickSize": 2.5, "tickColor": "#c8323c", "title": null}}
      }
    },
    {
      "data": {"name": "dma"},
      "transform": [{"filter": "datum.T < 0"}],
      "mark": {"type": "point", "opacity": 1, "filled": false, "color": "black", "strokeWidth": 0.9},
      "encoding": {
        "x": {"field": "T", "type": "quantitative", "scale": {"domain": [50, 400], "nice": false, "zero": false}, "axis": null},
        "y": {"field": "E1", "type": "quantitative", "scale": {"type": "log", "domain": [1, 13000], "nice": false}, "axis": null},
        "shape": {"field": "s", "type": "nominal",
                  "scale": {"domain": ["TFCPI-0", "TFCPI-5", "TFCPI-10", "TFCPI-15", "TFCPI-20", "TFCPI-25"],
                            "range": [
                              "M-3.4,0H-1M1,0H3.4M-1,-1H1V1H-1Z",
                              "M-3.4,0H-1M1,0H3.4M-1,0A1,1,0,1,1,1,0A1,1,0,1,1,-1,0Z",
                              "M-3.4,0H-0.57M0.57,0H3.4M0,-1L1,0.75H-1Z",
                              "M-3.4,0H-0.57M0.57,0H3.4M0,1L1,-0.75H-1Z",
                              "M-3.4,0H-1M1,0H3.4M0,-1.1L1,0L0,1.1L-1,0Z",
                              "M-3.4,0H-1M1,0H3.4M-1,0L1,-1V1Z"
                            ]},
                  "legend": {
                    "orient": "none", "legendX": 26.5, "legendY": 211.5, "columns": 2, "direction": "horizontal", "title": null, "padding": 0,
                    "symbolSize": 64, "symbolStrokeWidth": 0.9, "symbolStrokeColor": "black", "symbolOpacity": 1,
                    "labelFont": "Liberation Serif", "labelFontSize": 14.5, "labelColor": "black", "labelOffset": 4,
                    "columnPadding": 15, "rowPadding": 0.3
                  }}
      }
    },
    {
      "data": {"name": "arrows"},
      "mark": {"type": "rule", "color": "black", "strokeWidth": 1.3},
      "encoding": {
        "x": {"field": "T1", "type": "quantitative", "scale": {"domain": [50, 400], "nice": false, "zero": false}, "axis": null},
        "x2": {"field": "T2"},
        "y": {"field": "v", "type": "quantitative", "scale": {"type": "log", "domain": [1, 10000], "nice": false}, "axis": null}
      }
    },
    {
      "data": {"name": "arrows"},
      "mark": {"type": "point", "filled": true, "color": "black", "size": 225, "opacity": 1, "strokeWidth": 0},
      "encoding": {
        "x": {"field": "Th", "type": "quantitative", "scale": {"domain": [50, 400], "nice": false, "zero": false}, "axis": null},
        "y": {"field": "v", "type": "quantitative", "scale": {"type": "log", "domain": [1, 10000], "nice": false}, "axis": null},
        "shape": {"field": "dir", "type": "nominal",
                  "scale": {"domain": ["left", "right"], "range": ["M-1,0L1,-0.45L1,0.45Z", "M1,0L-1,-0.45L-1,0.45Z"]},
                  "legend": null}
      }
    }
  ],
  "resolve": {
    "scale": {"x": "independent", "y": "independent", "shape": "independent"},
    "axis": {"x": "independent", "y": "independent"},
    "legend": {"shape": "independent"}
  }
}
